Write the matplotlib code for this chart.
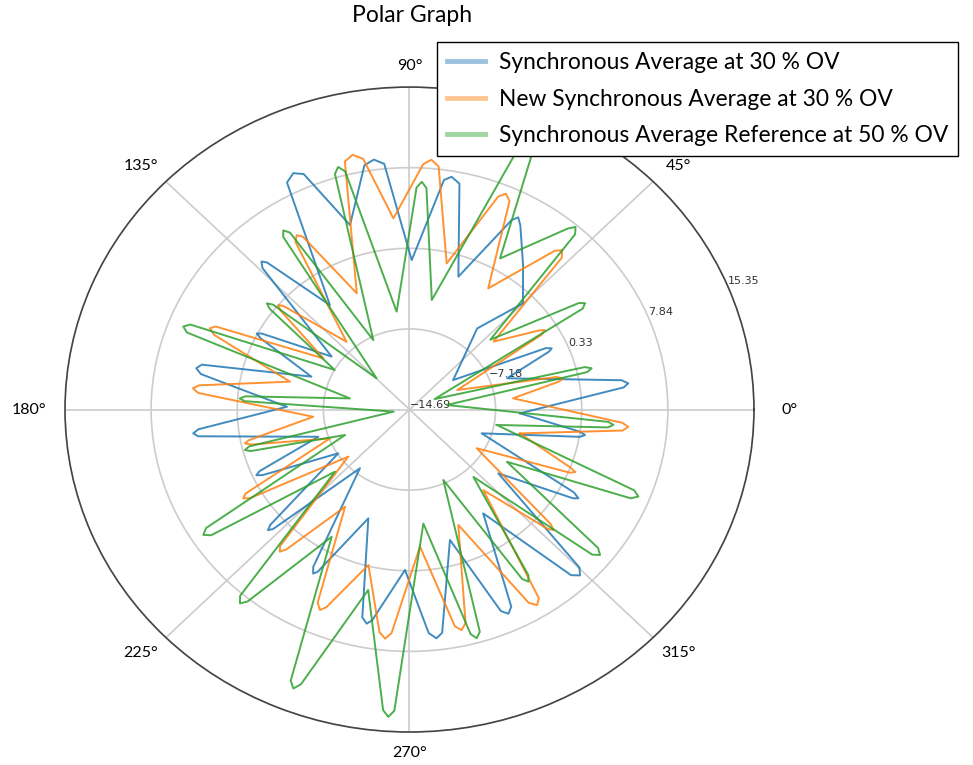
import numpy as np
import matplotlib.pyplot as plt
from matplotlib.lines import Line2D

# vertices: angle in degrees, radius in data units
# each petal: valley, tip shoulder, tip, tip shoulder, valley ...
blue_theta = [-2.1, 6.3, 7.3, 8.4, 18.9, 23.9, 24.7, 25.7, 35.8, 52, 45, 53.6,
              60.6, 62.1, 63.2, 71, 78.3, 80.4, 82.0, 89.2, 95.5, 97.6, 99.8, 106.8,
              112.8, 114.7, 116.8, 125.5, 132.2, 133.1, 134.2, 144, 151.2, 152, 152.9, 160.3,
              167.0, 168.3, 169.7, 178.6, 185.7, 186.7, 187.7, 197.7, 203.7, 204.6, 205.5, 213.3,
              221.5, 222.3, 223.1, 231.7, 240.2, 241.2, 242.1, 250.5, 258.0, 259.4, 260.6, 268.5,
              274.6, 276.3, 277.8, 286.2, 293.0, 294.4, 295.8, 303.6, 312.4, 313.9, 315.2, 322.5,
              329.9, 330.7, 331.7, 340.6, 350.3, 351.2, 352.1, 357.9]
blue_r = [-5.05, 4.1, 4.54, 4.0, -5.7, -1.4, -1.04, -1.5, -10.0, -5.1, -0.7, 2.0,
          5.0, 5.57, 5.1, -1.6, 6.8, 7.3, 6.9, -0.77, 8.3, 8.8, 8.4, 3.26,
          9.1, 9.55, 9.0, -2.74, 3.8, 4.2, 3.7, -6.3, 0.0, 0.4, -0.1, -5.6,
          3.9, 4.3, 3.8, -4.0, 3.8, 4.3, 3.9, -6.35, -0.4, 0.0, -0.5, -7.26,
          1.5, 2.0, 1.6, -7.72, 2.2, 2.75, 2.4, -3.94, 5.1, 5.6, 5.2, 0.26,
          6.2, 6.75, 6.3, -2.04, 5.7, 6.2, 5.7, -3.08, 6.2, 6.75, 6.2, -4.93,
          1.8, 2.2, 1.6, -8.02, 0.4, 0.8, 0.3, -5.05]

orange_theta = [-13, -6.0, -4.8, -3.8, 6.6, 11.3, 12.2, 13.3, 23.6, 31.2, 32.1, 33.1, 40.8,
                46.8, 48.1, 49.4, 58.7, 65.8, 67.3, 68.7, 76.6, 83.6, 85.3, 87.0, 94.5,
                99.8, 101.8, 103.7, 113, 120.0, 121.2, 122.5, 131, 138.7, 139.6, 140.6, 147.6,
                155.4, 156.5, 157.8, 166, 173.0, 174, 175.2, 184.6, 191.5, 192.4, 193.3, 201.2,
                208.7, 209.7, 210.7, 219.4, 228.4, 229.5, 230.5, 238.2, 246.0, 247.3, 248.5, 256.1,
                262.8, 264.3, 265.7, 274.1, 281.1, 282.5, 283.8, 291.6, 300.0, 301.4, 302.7, 310.6,
                317.3, 318.2, 319.1, 328.4, 337.2, 338.1, 339.0, 347]
orange_r = [-4.81, 4.0, 4.46, 3.9, -5.6, -1.4, -1.0, -1.5, -10.15, -1.2, -0.75, -1.2, -5.0,
            4.7, 5.25, 4.8, -1.48, 6.6, 7.1, 6.6, -0.7, 8.1, 8.65, 8.2, 3.17,
            9.0, 9.55, 9.1, -2.93, 3.9, 4.3, 3.8, -6.33, -0.1, 0.33, -0.1, -5.8,
            3.9, 4.3, 3.7, -3.95, 3.8, 4.3, 3.8, -6.27, -0.4, 0.0, -0.5, -7.26,
            1.6, 2.0, 1.5, -7.78, 2.3, 2.72, 2.2, -4.04, 5.0, 5.55, 5.1, 0.23,
            6.2, 6.75, 6.2, -1.89, 5.9, 6.35, 5.8, -3.13, 6.1, 6.65, 6.2, -4.81,
            1.7, 2.15, 1.6, -7.81, 0.5, 0.9, 0.3, -4.81]

green_theta = [-10.7, -5.5, -4.6, -3.8, 7.4, 12.7, 13.6, 14.5, 24, 31.9, 32.9, 33.9, 42.7,
               48.5, 49.6, 50.7, 60.7, 66.3, 67.3, 68.3, 79.2, 85.9, 87.1, 88.3, 97,
               104.2, 105.4, 106.5, 116, 122.3, 123.4, 124.4, 134.6, 140.6, 141.5, 142.4, 150.5,
               157.5, 158.6, 159.7, 168.7, 175.1, 176, 176.9, 188, 193.8, 194.7, 195.6, 202.9,
               211.9, 213, 214.1, 221.7, 229.6, 230.7, 231.7, 240.2, 247.7, 248.7, 249.7, 257.9,
               265.3, 266.3, 267.3, 276.5, 284.3, 285.4, 286.5, 294.2, 301.9, 302.9, 303.9, 311.6,
               319.7, 320.8, 321.9, 330.2, 336.8, 337.9, 339.0, 349.3]
green_r = [-6.95, 2.7, 3.15, 2.7, -11.4, 1.2, 1.65, 1.1, -12.3, 3.1, 3.55, 3.1, -5.1,
           7.1, 7.65, 7.1, 1.45, 13.0, 13.5, 13.0, -4.3, 6.0, 6.55, 6.0, -5.5,
           8.2, 8.75, 8.2, -7.5, 4.8, 5.3, 4.8, -10.6, 0.7, 1.2, 0.7, -7.2,
           6.0, 6.5, 6.0, -9.4, -0.3, 0.15, -0.3, -13.3, -0.3, 0.15, -0.3, -8.6,
           6.2, 6.75, 6.2, -6.0, 8.1, 8.65, 8.1, -1.04, 12.6, 13.2, 12.6, 2.5,
           13.4, 14.0, 13.4, -4.0, 6.9, 7.4, 6.9, -7.5, 3.9, 4.4, 3.9, -6.3,
           6.2, 6.75, 6.2, -4.9, 6.3, 6.85, 6.3, -6.95]

labels = ['Synchronous Average at 30 % OV',
          'New Synchronous Average at 30 % OV',
          'Synchronous Average Reference at 50 % OV']
colors = ['#1f77b4', '#ff7f0e', '#2ca02c']
r_ticks = [-14.69, -7.18, 0.33, 7.84, 15.35]
theta_ticks = [0, 45, 90, 135, 180, 225, 270, 315]

fig = plt.figure(figsize=(9.73, 7.65), dpi=100)
ax = fig.add_axes([0.0668, 0.0431, 0.7081, 0.8431], projection='polar')
ax.set_aspect('auto')

series = [(blue_theta, blue_r), (orange_theta, orange_r), (green_theta, green_r)]
for (th, r), c in zip(series, colors):
    ax.plot(np.deg2rad(th), r, color=c, lw=1.4, alpha=0.85, solid_joinstyle='round')

ax.set_ylim(r_ticks[0], r_ticks[-1])
ax.set_yticks(r_ticks)
ax.set_yticklabels([f'{t:.2f}'.replace('-', '\u2212') for t in r_ticks],
                   fontsize=8, color='#333333')
ax.set_rlabel_position(22.5)
ax.set_thetagrids(theta_ticks, labels=[''] * len(theta_ticks))
ax.grid(color='#cccccc', lw=1.2)
ax.spines['polar'].set_color('#444444')
ax.spines['polar'].set_linewidth(1.2)

# angle labels sit a bit further out sideways than up/down, as in the original
for a in theta_ticks:
    ax.text(0.5 + 0.552 * np.cos(np.deg2rad(a)), 0.5 + 0.533 * np.sin(np.deg2rad(a)),
            f'{a}°', transform=ax.transAxes, ha='center', va='center',
            fontfamily='Lato', fontsize=11.5)

fig.text(412 / 973, 1 - 15 / 765, 'Polar Graph', ha='center', va='center',
         fontfamily='Lato', fontsize=16.5)

handles = [Line2D([], [], color=c, lw=3.5, alpha=0.45) for c in colors]
leg = fig.legend(handles, labels, loc='upper left', bbox_to_anchor=(437 / 973, 1 - 42 / 765),
                 borderaxespad=0, frameon=True, fancybox=False, edgecolor='black',
                 framealpha=1, prop={'family': 'Lato', 'size': 16.4}, handlelength=1.67,
                 handletextpad=0.6, labelspacing=0.68, borderpad=0.45)
leg.get_frame().set_linewidth(1.0)

fig.savefig('out.png', dpi=100)
